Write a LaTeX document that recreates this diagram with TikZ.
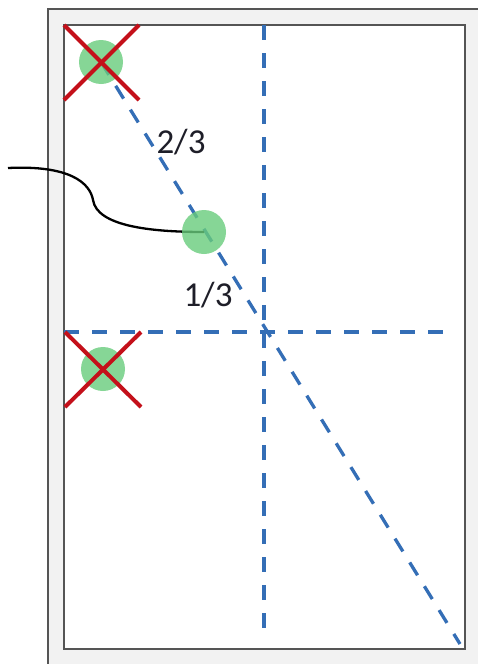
\documentclass[tikz,border=0pt]{standalone}
\usepackage{xcolor}
\usepackage{tikz}
\usepackage{fontspec}
\setmainfont{Carlito}
\definecolor{guide_blue}{RGB}{52,110,182}
\definecolor{spot_green}{RGB}{104,204,124}
\definecolor{cross_red}{RGB}{196,16,26}
\definecolor{frame_dark}{RGB}{85,85,85}
\definecolor{frame_light}{RGB}{242,242,242}
\definecolor{label_dark}{RGB}{30,30,40}

\begin{document}
\begin{tikzpicture}[x=1pt, y=-1pt,
    guide/.style={guide_blue, line width=3.3pt, dash pattern=on 15pt off 13pt},
    spot/.style={circle, fill=spot_green, fill opacity=0.8, minimum size=44pt, inner sep=0pt},
    strike/.style={cross_red, line width=4pt},
    ratio/.style={text=label_dark, font=\fontsize{35}{40}\selectfont}]
    \useasboundingbox (0,0) rectangle (478,664);

    % Frame
    \fill[frame_light] (48,9) rectangle (478,664);
    \draw[frame_dark, line width=2pt] (48,664) -- (48,9) -- (478,9);
    \draw[frame_dark, line width=2.5pt, fill=white] (64,25) rectangle (465,649);

    % Spot centres
    \coordinate (c_top) at (101,62);
    \coordinate (c_mid) at (204,232);
    \coordinate (c_low) at (103,369);

    % Guides
    \coordinate (v_top) at (264,25);
    \coordinate (v_bot) at (264,632);
    \coordinate (h_left) at (64,332);
    \coordinate (h_right) at (452,332);
    \coordinate (corner) at (460,644);
    \draw[guide] (v_top) -- (v_bot);
    \draw[guide] (h_left) -- (h_right);
    \draw[guide] (c_top) -- (corner);

    % Lead
    \coordinate (lead) at (8,168);
    \draw[black, line width=2.3pt] (lead) .. controls (70,165) and (90,183) .. (93,200)
        .. controls (97,226) and (150,232) .. (c_mid);

    % Spots
    \node[spot] (spot_top) at (c_top) {};
    \node[spot] (spot_mid) at (c_mid) {};
    \node[spot] (spot_low) at (c_low) {};

    % Crosses
    \draw[strike] (64,25) -- (139,100);
    \draw[strike] (139,25) -- (64,100);
    \draw[strike] (65,332) -- (141,407);
    \draw[strike] (141,332) -- (65,407);

    % Labels
    \node[ratio] (upper) at (181,142) {2/3};
    \node[ratio] (lower) at (208,295) {1/3};
\end{tikzpicture}
\end{document}
